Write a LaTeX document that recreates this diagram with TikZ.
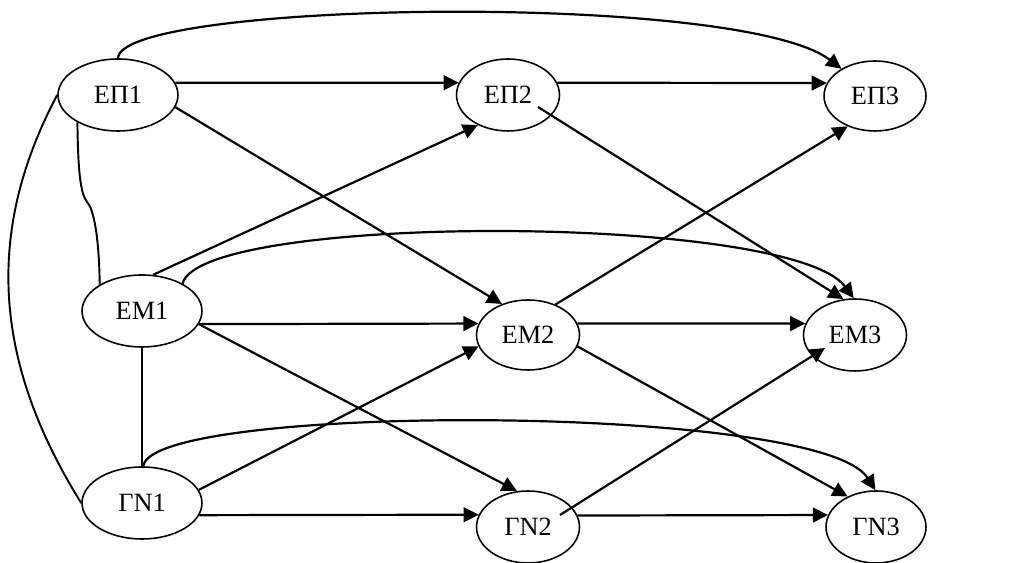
\documentclass[tikz,border=0pt]{standalone}
\usepackage{fontspec}
\setmainfont{Liberation Serif}
\usepackage{tikz}
\usetikzlibrary{shapes.geometric, arrows.meta}
\tikzset{
  firstwave/.style = {
    ellipse, draw=black, line width=0.9pt,
    minimum width=2.4cm, minimum height=1.44cm, inner sep=0pt,
    text centered, font=\fontsize{15}{18}\selectfont
  },
  laterwave/.style = {firstwave, minimum width=2.06cm},
  myarrow/.style = {-{Triangle[length=8.6pt, width=8.4pt]}, line width=1.25pt},
  corrline/.style = {line width=1.1pt}
}

\begin{document}
\begin{tikzpicture}[x=0.02cm, y=0.02cm]
  \useasboundingbox (0,0) rectangle (1013,563);

  % Nodes
  \node[firstwave] (ep1) at (118,468) {ΕΠ1};
  \node[laterwave] (ep2) at (508,468) {ΕΠ2};
  \node[laterwave, minimum width=2.04cm, minimum height=1.4cm] (ep3) at (875,467) {ΕΠ3};
  \node[firstwave] (em1) at (142,252) {ΕΜ1};
  \node[laterwave, minimum height=1.4cm] (em2) at (528,228) {ΕΜ2};
  \node[laterwave] (em3) at (855,228) {ΕΜ3};
  \node[firstwave] (gn1) at (142,60) {ΓΝ1};
  \node[laterwave] (gn2) at (528,36) {ΓΝ2};
  \node[laterwave, minimum width=2cm] (gn3) at (876,36) {ΓΝ3};
  \coordinate (kink) at (87,361);

  % Correlations between the first-wave variables
  \draw[corrline] (ep1.west) .. controls (-16,330) and (-6,200) .. (gn1.west);
  \draw[corrline] (ep1.214) .. controls (78,395) and (80,370) .. (kink)
    .. controls (93,355) and (99,330) .. (em1.148);
  \draw[corrline] (em1.south) -- (gn1.north);

  % Paths from ΕΠ1
  \draw[myarrow] (ep1.12) -- (ep2.166);
  \draw[myarrow] (ep1.north) .. controls (120,562) and (740,572) .. (ep3.141);
  \draw[myarrow] (ep1.-12) -- (em2.130);

  % Paths from ΕΜ1
  \draw[myarrow] (em1.73) -- (ep2.225);
  \draw[myarrow] (em1.34) .. controls (200,350) and (790,350) .. (em3.92);
  \draw[myarrow] (em1.-13) -- (em2.167);
  \draw[myarrow] (em1.-13) -- (gn2.107);

  % Paths from ΓΝ1
  \draw[myarrow] (gn1.13) -- (em2.193);
  \draw[myarrow] (gn1.88) .. controls (150,160) and (820,160) .. (gn3.91);
  \draw[myarrow] (gn1.-12) -- (gn2.166);

  % Second wave to third wave
  \draw[myarrow] (ep2.14) -- (ep3.165);
  \draw[myarrow] ([shift={(30,-12)}]ep2.center) -- (em3.108);
  \draw[myarrow] (em2.48) -- (ep3.228);
  \draw[myarrow] (em2.13) -- (em3.167);
  \draw[myarrow] (em2.-13) -- (gn3.133);
  \draw[myarrow] ([shift={(32,12)}]gn2.center) -- ([shift={(-30,-13)}]em3.center);
  \draw[myarrow] (gn2.13) -- (gn3.166);
\end{tikzpicture}
\end{document}
